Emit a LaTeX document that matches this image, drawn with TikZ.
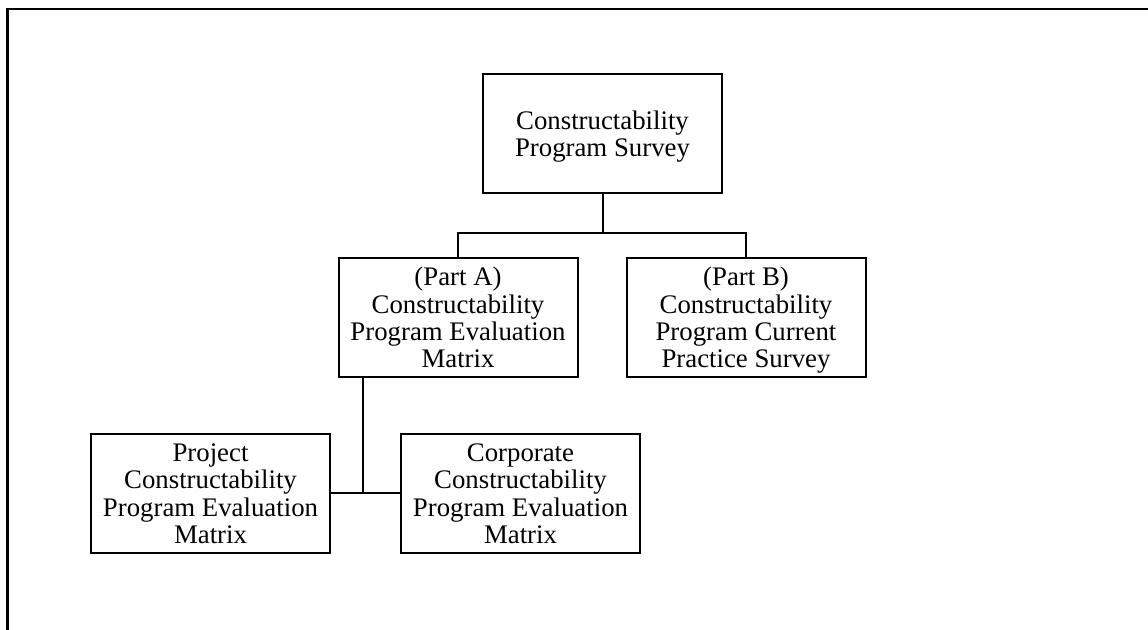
\documentclass[tikz,border=0pt]{standalone}
\usepackage{fontspec}
\setmainfont{Liberation Serif}
\tikzset{
 box/.style={draw,line width=1pt,align=center,inner sep=0pt,
  minimum width=119.5pt,minimum height=59.5pt,text depth=0pt,
  font=\fontsize{13.4}{13.7}\selectfont},
 link/.style={line width=1pt}
}
\begin{document}
\begin{tikzpicture}[x=0.5pt,y=-0.5pt]
 \useasboundingbox (0,0) rectangle (1148,630);
 \draw[line width=1.3pt] (1148,9) -- (7.5,9) -- (7.5,630);
 \node[box] (survey) at (602.5,134) {Constructability\\Program Survey};
 \node[box] (partA) at (458,317.5) {(Part A)\\Constructability\\Program Evaluation\\Matrix};
 \node[box] (partB) at (746,317.5) {(Part B)\\Constructability\\Program Current\\Practice Survey};
 \node[box] (project) at (210.5,493.5) {Project\\Constructability\\Program Evaluation\\Matrix};
 \node[box] (corporate) at (520.5,493.5) {Corporate\\Constructability\\Program Evaluation\\Matrix};
 \coordinate (split) at (602.5,233);
 \coordinate (hub) at (363,494);
 \draw[link] (partA.north) |- (split) -| (partB.north);
 \draw[link] (survey.south) -- (split);
 \draw[link] (partA.south -| hub) -- (project.east -| hub);
 \draw[link] (project.east) -- (corporate.west);
\end{tikzpicture}
\end{document}
